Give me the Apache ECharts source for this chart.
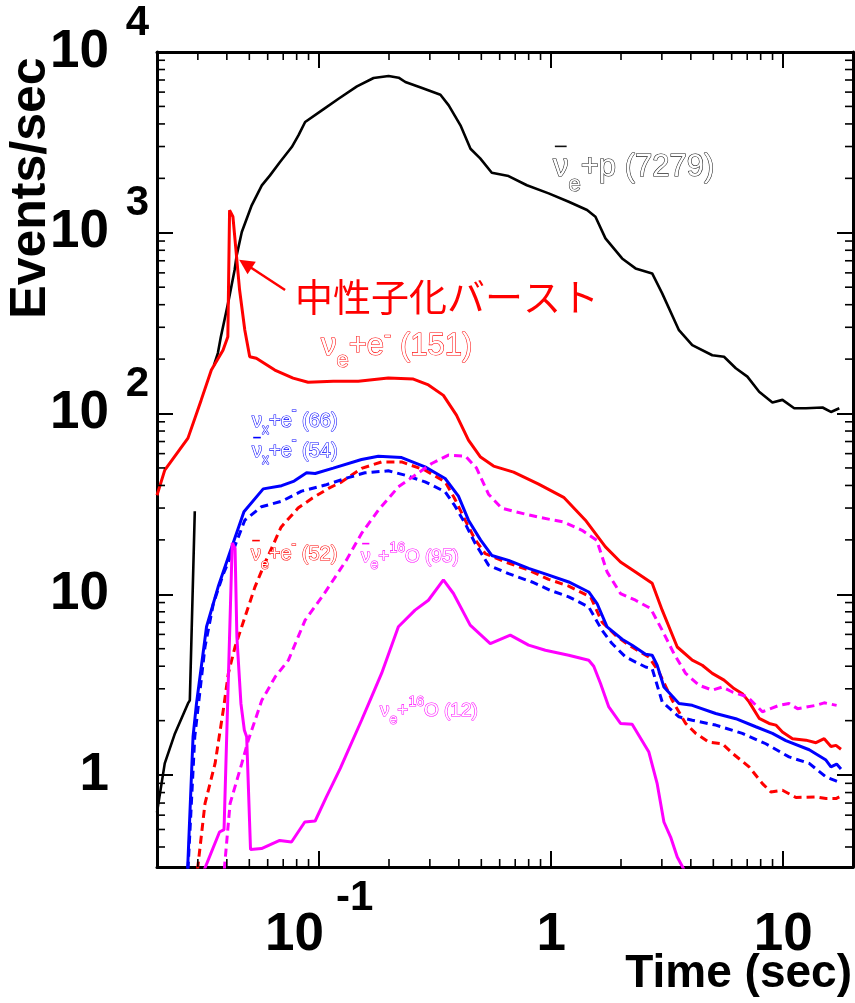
<!DOCTYPE html>
<html>
<head>
<meta charset="utf-8">
<title>Supernova neutrino event rates</title>
<script src="https://cdn.jsdelivr.net/npm/echarts@6.0.0/dist/echarts.min.js"></script>
<style>
html,body{margin:0;padding:0;background:#fff;}
#chart{width:855px;height:1003px;}
</style>
</head>
<body>
<div id="chart"></div>
<script>
// ---------- data: [time (s), events/s] ----------
const nuebarP = [[0.02,0.622],[0.0216,1.16],[0.0239,1.70],[0.0272,2.49],[0.0277,2.59],[0.0291,28.8],[0.033,null],
  [0.0352,185],[0.0366,216],[0.0377,266],[0.0405,408],[0.0432,622],[0.0441,750],[0.0464,1009],[0.0512,1419],[0.0566,1829],
  [0.0614,2078],[0.0678,2462],[0.0762,2979],[0.0814,3459],[0.087,4100],[0.1027,4757],[0.1212,5515],[0.1455,6459],
  [0.1716,7181],[0.1992,7367],[0.2201,7210],[0.2352,6823],[0.2778,6320],[0.3332,5802],[0.3618,5070],[0.4065,3930],
  [0.449,2917],[0.4944,2581],[0.5548,2148],[0.6552,2059],[0.786,1831],[0.9754,1652],[1.19,1485],[1.428,1336],
  [1.552,1227],[1.714,931],[2.022,721],[2.31,635],[2.725,596],[3.01,462],[3.555,289],[4.057,239],[4.95,210],
  [5.56,206],[6.25,178],[7.01,160],[7.88,132],[8.99,115],[9.93,119],[11.16,107],[12.53,107],[14.78,108],
  [16.07,102],[17.46,107]];
const nueE = [[0.02,35.3],[0.0216,48.6],[0.0272,73.1],[0.031,118.6],[0.0343,174],[0.0385,224],[0.0404,266],
  [0.0411,1332],[0.0425,1226],[0.0454,482],[0.0478,290],[0.0502,206],[0.0536,202],[0.0644,174],[0.0772,157],
  [0.0896,149],[0.115,151],[0.1474,151],[0.1986,157],[0.2547,155],[0.2958,144],[0.3432,126],[0.3906,97.9],
  [0.4401,71.3],[0.496,57.4],[0.5646,51.2],[0.6887,47.4],[0.8831,40.7],[1.132,34.4],[1.405,25.7],[1.714,18.3],
  [1.99,15.1],[2.31,13.3],[2.725,11.5],[3.01,8.17],[3.495,5.11],[4.057,4.32],[4.48,4.05],[4.95,3.65],[5.56,3.35],
  [6.14,3.01],[6.67,2.82],[7.13,2.54],[7.88,2.06],[8.70,1.93],[9.30,1.89],[9.93,1.73],[10.97,1.59],[12.53,1.56],
  [13.85,1.51],[15.03,1.59],[16.07,1.44],[16.89,1.46],[17.75,1.39]];
const nuxE = [[0.0271,0.3],[0.0286,1.63],[0.0296,2.49],[0.0327,6.61],[0.0367,11.0],[0.0406,16.1],[0.0474,28.6],
  [0.0574,38.3],[0.0689,39.9],[0.078,42.3],[0.0883,47.0],[0.0961,46.6],[0.115,49.9],[0.1523,55.7],[0.1799,58.1],
  [0.2267,57.1],[0.2861,50.7],[0.3491,43.7],[0.3984,34.9],[0.4401,25.7],[0.496,20.0],[0.5548,16.4],[0.6552,15.4],
  [0.7995,13.9],[0.956,12.9],[1.19,11.7],[1.452,10.3],[1.577,8.89],[1.742,6.61],[2.022,5.64],[2.234,5.23],
  [2.552,4.66],[2.725,4.60],[2.864,4.05],[3.062,3.07],[3.555,2.49],[4.057,2.43],[5.12,2.19],[6.25,2.05],
  [7.62,1.85],[8.99,1.70],[10.27,1.55],[12.95,1.38],[15.29,1.21],[16.07,1.11],[17.0,1.15],[17.75,1.08]];
const nuxbarE = [[0.0272,0.3],[0.0291,1.63],[0.0322,5.12],[0.035,8.89],[0.0385,12.8],[0.0432,18.3],[0.0478,25.7],
  [0.0564,30.5],[0.0689,32.7],[0.084,37.2],[0.1062,40.2],[0.1334,44.2],[0.1575,47.0],[0.1987,48.2],[0.2346,45.6],
  [0.2861,41.9],[0.3491,36.9],[0.383,31.1],[0.426,24.6],[0.4708,19.1],[0.537,14.5],[0.6552,13.0],[0.8264,11.7],
  [0.995,10.5],[1.19,9.68],[1.452,8.51],[1.657,6.32],[1.83,5.34],[2.092,4.50],[2.552,3.96],[2.725,3.88],
  [3.01,2.54],[3.555,2.10],[4.057,2.01],[5.12,1.89],[6.67,1.70],[8.42,1.49],[10.6,1.26],[12.95,1.16],
  [15.29,0.976],[16.89,0.928],[17.75,0.904]];
const nuebarE = [[0.0299,0.3],[0.0322,0.695],[0.0356,1.16],[0.0386,2.28],[0.0406,3.65],[0.0434,5.12],[0.0479,7.50],
  [0.0529,11.0],[0.0584,14.9],[0.0685,23.5],[0.0811,30.0],[0.0933,34.0],[0.1097,38.5],[0.1251,41.9],[0.1523,49.7],
  [0.1858,54.0],[0.2267,54.0],[0.2861,48.6],[0.3491,41.9],[0.383,34.0],[0.426,25.7],[0.4708,20.0],[0.5197,16.8],
  [0.634,15.1],[0.7995,13.6],[0.9754,12.1],[1.19,11.1],[1.481,9.64],[1.657,7.01],[1.893,5.94],[2.162,5.23],
  [2.637,4.50],[2.913,3.72],[3.325,2.59],[3.80,1.93],[4.20,1.70],[4.79,1.52],[5.47,1.49],[6.04,1.32],[7.13,1.11],
  [8.14,0.897],[8.85,0.806],[9.93,0.824],[11.35,0.751],[13.85,0.757],[15.29,0.741],[16.89,0.741],[17.46,0.757]];
const nuebarO = [[0.039,0.3],[0.0413,0.695],[0.0464,1.16],[0.0495,1.56],[0.0566,2.59],[0.0646,3.49],[0.0737,4.32],
  [0.087,7.19],[0.1041,9.89],[0.1308,15.4],[0.1523,21.7],[0.1799,29.2],[0.2195,39.3],[0.259,45.6],[0.3055,52.9],
  [0.3607,58.9],[0.4272,58.1],[0.4768,49.9],[0.537,35.8],[0.611,30.0],[0.7096,28.5],[0.8831,26.7],[1.132,25.1],
  [1.359,22.6],[1.572,19.9],[1.742,13.3],[1.99,10.1],[2.31,9.27],[2.683,8.35],[3.01,6.33],[3.382,4.70],[3.80,3.65],
  [4.34,3.14],[4.95,2.95],[5.47,3.07],[6.04,2.88],[7.01,2.71],[8.14,2.24],[9.61,2.43],[10.6,2.49],[11.53,2.33],
  [13.85,2.43],[15.03,2.51],[17.0,2.43]];
const nueO = [[0.032,0.3],[0.0372,0.484],[0.0389,0.499],[0.0422,19.2],[0.0434,18.0],[0.0442,5.79],[0.046,2.49],
  [0.0476,1.77],[0.0487,1.63],[0.0506,0.388],[0.0564,0.392],[0.0676,0.435],[0.076,0.426],[0.0867,0.55],
  [0.0961,0.557],[0.1072,0.753],[0.1233,1.09],[0.1334,1.37],[0.1523,2.01],[0.1682,2.71],[0.1858,3.65],
  [0.2195,6.61],[0.259,8.17],[0.2957,9.27],[0.3432,12.0],[0.3792,10.1],[0.4477,6.75],[0.5464,5.34],[0.6665,5.94],
  [0.7995,5.23],[0.944,4.90],[1.19,4.60],[1.452,4.32],[1.526,4.00],[1.632,3.21],[1.772,2.38],[1.99,1.93],
  [2.234,1.91],[2.637,1.34],[2.864,0.896],[3.062,0.55],[3.273,0.454],[3.495,0.352],[3.736,0.3]];

// axis tick values
const xMinorTicks = [0.03,0.04,0.05,0.06,0.07,0.08,0.09,0.2,0.3,0.4,0.5,0.6,0.7,0.8,0.9,2,3,4,5,6,7,8,9];
const yMinorTicks = [0.4,0.5,0.6,0.7,0.8,0.9,2,3,4,5,6,7,8,9,20,30,40,50,60,70,80,90,
  200,300,400,500,600,700,800,900,2000,3000,4000,5000,6000,7000,8000,9000];
// annotation arrow (data coords) for the neutronization burst
const burstArrowFrom = [0.0713, 482];
const burstArrowTo = [0.0481, 672];

const AXIS_FONT = "'Liberation Sans',Arial,sans-serif";
const LABEL_FONT = "'Liberation Sans',Arial,sans-serif";
const RED = '#ff0000', BLUE = '#0000ff', MAG = '#ff00ff';

function expOf(v) {
  const e = Math.log10(v), r = Math.round(e);
  return Math.abs(e - r) < 1e-6 ? r : null;
}

// outlined curve label with sub/superscripts; optional overbar on the first glyph
function curveLabel(x, base, F, f, dsub, dsup, color, bar, parts) {
  const pad = 20;
  const top = base - 0.34 * F - F / 2 - pad;
  const padFor = (b, s) => Math.max(0, (b - 0.34 * s) - s / 2 - top);
  const common = {fontFamily: LABEL_FONT, fill: '#fff', stroke: color, lineWidth: 1.1, verticalAlign: 'top'};
  const rich = {
    m: Object.assign({fontSize: F, lineHeight: F, padding: [pad, 0, 0, 0]}, common),
    sb: Object.assign({fontSize: f, lineHeight: f, padding: [padFor(base + dsub, f), 0, 0, 0]}, common),
    sp: Object.assign({fontSize: f, lineHeight: f, padding: [padFor(base + dsup, f), 0, 0, 0]}, common)
  };
  const els = [{
    type: 'text', x: x, y: top, z: 100, silent: true,
    style: {
      text: parts.map(p => '{' + p[0] + '|' + p[1] + '}').join(''),
      rich: rich, fill: '#fff', stroke: color, lineWidth: 1.1,
      align: 'left', verticalAlign: 'top', fontFamily: LABEL_FONT, fontSize: F
    }
  }];
  if (bar) {
    const by = base - 1.02 * F;
    els.push({type: 'line', z: 100, silent: true,
      shape: {x1: x + 0.06 * F, y1: by, x2: x + 0.44 * F, y2: by},
      style: {stroke: color, lineWidth: 1.6}});
  }
  return els;
}

function minorTickSeries(values, isX) {
  return {
    type: 'custom', xAxisIndex: 0, yAxisIndex: 0, silent: true, clip: false, z: 5,
    animation: false,
    data: values.map(v => isX ? [v, 1] : [1, v]),
    renderItem: function (params, api) {
      const cs = params.coordSys;
      const st = {stroke: '#000', lineWidth: 1.6};
      if (isX) {
        const px = api.coord([api.value(0), 1])[0];
        return {type: 'group', children: [
          {type: 'line', shape: {x1: px, y1: cs.y + cs.height, x2: px, y2: cs.y + cs.height - 8}, style: st},
          {type: 'line', shape: {x1: px, y1: cs.y, x2: px, y2: cs.y + 8}, style: st}
        ]};
      }
      const py = api.coord([1, api.value(1)])[1];
      return {type: 'group', children: [
        {type: 'line', shape: {x1: cs.x, y1: py, x2: cs.x + 8, y2: py}, style: st},
        {type: 'line', shape: {x1: cs.x + cs.width, y1: py, x2: cs.x + cs.width - 8, y2: py}, style: st}
      ]};
    }
  };
}

const axisCommon = {
  type: 'log', logBase: 10,
  splitLine: {show: false}, minorTick: {show: false}, minorSplitLine: {show: false},
  axisLine: {show: true, onZero: false, lineStyle: {color: '#000', width: 3}},
  axisTick: {show: true, inside: true, length: 16, lineStyle: {color: '#000', width: 2}}
};

const xLabelRich = {
  b: {fontFamily: AXIS_FONT, fontWeight: 'bold', fontSize: 53, color: '#000', lineHeight: 124},
  s: {fontFamily: AXIS_FONT, fontWeight: 'bold', fontSize: 42, color: '#000', lineHeight: 42,
      verticalAlign: 'top', padding: [4, 0, 0, 12]}
};
const yLabelRich = {
  b: {fontFamily: AXIS_FONT, fontWeight: 'bold', fontSize: 53, color: '#000', lineHeight: 100},
  s: {fontFamily: AXIS_FONT, fontWeight: 'bold', fontSize: 42, color: '#000', lineHeight: 42,
      verticalAlign: 'top', width: 24, padding: [0, 0, 0, 16]}
};

function lineSeries(name, data, color, dashed, width) {
  return {
    name: name, type: 'line', data: data, showSymbol: false, symbol: 'none',
    connectNulls: false, animation: false, silent: true,
    lineStyle: {color: color, width: width || 3, type: dashed ? [8, 5] : 'solid'},
    itemStyle: {color: color}
  };
}

const redSeries = lineSeries('νe+e-', nueE, RED, false, 3);
redSeries.markLine = {
  silent: true, animation: false,
  symbol: ['none', 'triangle'], symbolSize: [15, 15],
  lineStyle: {color: RED, width: 2.5, type: 'solid'},
  label: {show: false},
  data: [[{coord: burstArrowFrom}, {coord: burstArrowTo}]]
};

const option = {
  backgroundColor: '#fff',
  animation: false,
  grid: {left: 157, top: 52, right: 2, bottom: 136, containLabel: false, outerBoundsMode: 'none'},
  xAxis: [
    Object.assign({}, axisCommon, {
      position: 'bottom', min: 0.02, max: 20,
      axisLabel: {
        show: true, margin: 6, rich: xLabelRich,
        formatter: function (v) {
          const e = expOf(v);
          if (e === null) return '';
          if (e === 0) return '{b|1}';
          if (e === 1) return '{b|10}';
          return '{b|10}{s|' + e + '}';
        }
      }
    }),
    Object.assign({}, axisCommon, {position: 'top', min: 0.02, max: 20, axisLabel: {show: false}})
  ],
  yAxis: [
    Object.assign({}, axisCommon, {
      position: 'left', min: 0.31, max: 10000,
      axisLabel: {
        show: true, margin: 8, rich: yLabelRich,
        formatter: function (v) {
          const e = expOf(v);
          if (e === null) return '';
          if (e === 0) return '{b|1}{s| }';
          if (e === 1) return '{b|10}{s| }';
          return '{b|10}{s|' + e + '}';
        }
      }
    }),
    Object.assign({}, axisCommon, {position: 'right', min: 0.31, max: 10000, axisLabel: {show: false}})
  ],
  series: [
    lineSeries('ν̄e+p', nuebarP, '#000', false, 2.6),
    redSeries,
    lineSeries('ν̄e+e-', nuebarE, RED, true, 3),
    lineSeries('ν̄x+e-', nuxbarE, BLUE, true, 3),
    lineSeries('νx+e-', nuxE, BLUE, false, 3),
    lineSeries('ν̄e+16O', nuebarO, MAG, true, 3),
    lineSeries('νe+16O', nueO, MAG, false, 3),
    minorTickSeries(xMinorTicks, true),
    minorTickSeries(yMinorTicks, false)
  ],
  graphic: [
    {type: 'text', x: 31, y: 188, rotation: Math.PI / 2, silent: true,
     style: {text: 'Events/sec', fontFamily: LABEL_FONT, fontWeight: 'bold', fontSize: 50, fill: '#000',
             align: 'center', verticalAlign: 'middle'}},
    {type: 'text', x: 852, y: 974, silent: true,
     style: {text: 'Time (sec)', fontFamily: AXIS_FONT, fontWeight: 'bold', fontSize: 46, fill: '#000',
             align: 'right', verticalAlign: 'middle'}},
    {type: 'text', x: 295, y: 297, silent: true, z: 100,
     style: {text: '中性子化バースト', fontFamily: "'Noto Sans CJK JP','Noto Sans CJK SC',sans-serif",
             fontSize: 38, fill: RED, align: 'left', verticalAlign: 'middle'}}
  ].concat(
    curveLabel(553, 178, 31, 22, 14, -14, '#111', true, [['m', 'ν'], ['sb', 'e'], ['m', '+p (7279)']]),
    curveLabel(321, 357, 31, 22, 11, -14, RED, false, [['m', 'ν'], ['sb', 'e'], ['m', '+e'], ['sp', '-'], ['m', ' (151)']]),
    curveLabel(252, 428, 20, 14, 7, -12, BLUE, false, [['m', 'ν'], ['sb', 'x'], ['m', '+e'], ['sp', '-'], ['m', ' (66)']]),
    curveLabel(252, 458, 20, 14, 7, -12, BLUE, true, [['m', 'ν'], ['sb', 'x'], ['m', '+e'], ['sp', '-'], ['m', ' (54)']]),
    curveLabel(251, 561, 20, 14, 9, -11, RED, true, [['m', 'ν'], ['sb', 'e'], ['m', '+e'], ['sp', '-'], ['m', ' (52)']]),
    curveLabel(361, 563, 19, 14, 7, -10, MAG, true, [['m', 'ν'], ['sb', 'e'], ['m', '+'], ['sp', '16'], ['m', 'O (95)']]),
    curveLabel(380, 717, 19, 14, 8, -10, MAG, false, [['m', 'ν'], ['sb', 'e'], ['m', '+'], ['sp', '16'], ['m', 'O (12)']])
  )
};

const chart = echarts.init(document.getElementById('chart'), null, {renderer: 'canvas'});
chart.setOption(option);
</script>
</body>
</html>
